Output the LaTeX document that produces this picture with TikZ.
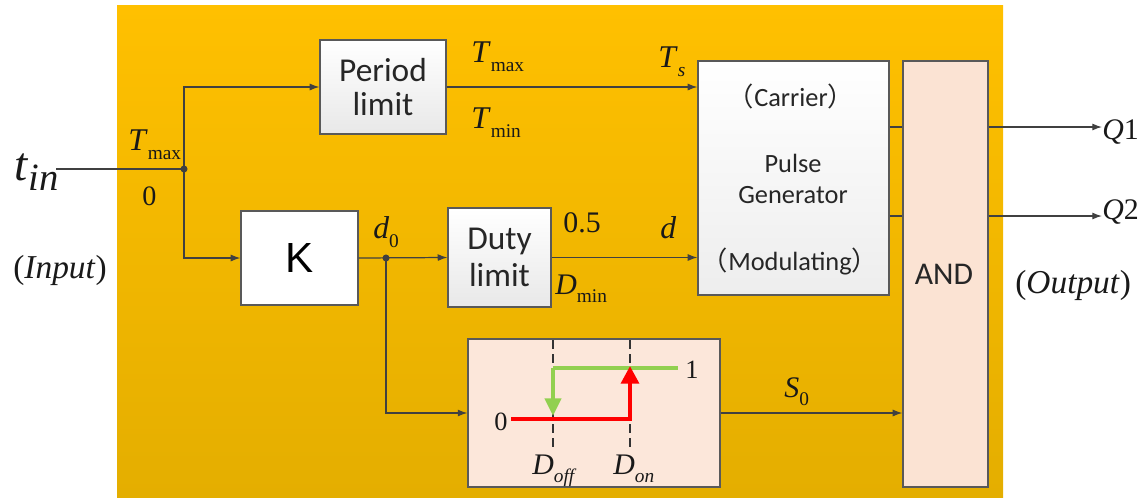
\documentclass[tikz,border=0pt]{standalone}
\usepackage{fontspec}
\setmainfont{Liberation Serif}
\newfontfamily\boxfont{Carlito}
\newfontfamily\arialf{Liberation Sans}
\newfontfamily\cjkf{Noto Sans CJK SC}
\usetikzlibrary{arrows.meta}
\newcommand\fsz[1]{\fontsize{#1}{#1}\selectfont}
\newcommand\sublab[4]{{\fsz{#1}\textit{#2}\raisebox{-0.3em}{\fsz{#3}#4}}}
\definecolor{linec}{HTML}{404040}
\definecolor{boxb}{HTML}{595959}
\definecolor{bgtop}{HTML}{FFC000}
\definecolor{bgbot}{HTML}{E4AE00}
\definecolor{peach}{HTML}{FBE3D3}
\definecolor{hred}{HTML}{FF0000}
\definecolor{hgreen}{HTML}{92D050}
\tikzset{
  conn/.style={draw=linec, line width=0.7pt},
  arr/.style={conn, -{Latex[length=5.5pt,width=4pt]}},
  blk/.style={draw=boxb, line width=0.7pt, top color=white, bottom color=black!9, inner sep=0pt, align=center, font=\boxfont\fsz{19}, text=black!85},
  pblk/.style={draw=boxb, line width=0.7pt, fill=peach, inner sep=0pt, align=center, font=\boxfont\fsz{17}, text=black!85},
  lab/.style={inner sep=0pt, anchor=base west, text=black!90},
  ptxt/.style={inner sep=0pt, font=\boxfont\fsz{15}, text=black!85},
  dot/.style={circle, fill=linec, inner sep=0pt, minimum size=4pt},
}
\begin{document}
\begin{tikzpicture}[x=0.02cm, y=-0.02cm]
\useasboundingbox (0,0) rectangle (1146,498);
% background
\shade[top color=bgtop, bottom color=bgbot] (117,5) rectangle (1003,497);
% blocks
\node[blk, minimum width=2.52cm, minimum height=1.88cm] (period) at (383,87) {Period\\[0pt]limit};
\node[blk, top color=white, bottom color=white, minimum width=2.34cm, minimum height=1.88cm, font=\arialf\fsz{24}, text=black] (K) at (299.5,258) {K};
\node[blk, minimum width=2.06cm, minimum height=1.98cm] (duty) at (499.5,257.5) {Duty\\[2pt]limit};
\node[blk, bottom color=black!7, minimum width=3.82cm, minimum height=4.68cm] (pg) at (793.5,178) {};
\node[pblk, minimum width=1.7cm, minimum height=8.52cm] (and) at (945.5,274) {};
\node[inner sep=0pt, font=\boxfont\fsz{18}, text=black!85] (andt) at (944,274) {AND};
\node[pblk, fill=peach!85, minimum width=5.04cm, minimum height=2.96cm] (hyst) at (594,413) {};
% pulse generator texts
\node[ptxt] (carrier) at (791,96) {{\cjkf （}Carrier{\cjkf ）}};
\node[ptxt, align=center] (pulse) at (793,179) {Pulse\\[3pt]Generator};
\node[ptxt] (modul) at (790,261) {{\cjkf （}Modulating{\cjkf ）}};
% input
\node[lab] (tin) at (14,180) {\fsz{27}\textit{t}\raisebox{-0.22em}{\fsz{22}\textit{in}}};
\coordinate (tstart) at (56,169);
\coordinate (j1) at (184,169);
\coordinate (j2) at (386,258);
\draw[conn] (tstart) -- (j1);
\draw[arr] (j1) |- (period.west);
\draw[arr] (j1) |- (K.west);
\node[dot] (j1d) at (j1) {};
\draw[arr] (K.east) -- (duty.west);
\node[dot] (j2d) at (j2) {};
\draw[arr] (j2) |- (hyst.west);
\draw[arr] (period.east) -- (period.east -| pg.west);
\draw[arr] (duty.east) -- (duty.east -| pg.west);
\draw[arr] (hyst.east) -- (hyst.east -| and.west);
% PG to AND
\coordinate (q1y) at (0,127);
\coordinate (q2y) at (0,216);
\draw[conn] (pg.east |- q1y) -- (and.west |- q1y);
\draw[conn] (pg.east |- q2y) -- (and.west |- q2y);
\node[lab] (Q1) at (1102,139) {\fsz{17}\textit{Q}1};
\node[lab] (Q2) at (1102,219) {\fsz{17}\textit{Q}2};
\draw[arr] (and.east |- q1y) -- (Q1.west |- q1y);
\draw[arr] (and.east |- q2y) -- (Q2.west |- q2y);
% labels
\node[lab] (tmaxl) at (128,150) {\sublab{18}{T}{11}{max}};
\node[lab] (zerol) at (142,205) {\fsz{16}0};
\node[lab] (inputl) at (13,278) {\fsz{19}(\textit{Input})};
\node[lab] (outputl) at (1015,293) {\fsz{19}(\textit{Output})};
\node[lab] (tmax2) at (471,62) {\sublab{18}{T}{11}{max}};
\node[lab] (tmin2) at (471,128) {\sublab{18}{T}{11}{min}};
\node[lab] (tsl) at (658,67) {\sublab{18}{T}{11}{\textit{s}}};
\node[lab] (d0l) at (373,238) {\sublab{18}{d}{11}{0}};
\node[lab] (halfl) at (563,232) {\fsz{17}0.5};
\node[lab] (dl) at (660,238) {\fsz{18}\textit{d}};
\node[lab] (dminl) at (555,294) {\sublab{17}{D}{11}{min}};
\node[lab] (s0l) at (784,397) {\sublab{17}{S}{11}{0}};
% hysteresis drawing
\draw[black!80, line width=0.6pt, dash pattern=on 5pt off 3pt] (553,340) -- (553,447);
\draw[black!80, line width=0.6pt, dash pattern=on 5pt off 3pt] (630,340) -- (630,447);
\draw[hgreen, line width=2.4pt] (553,368) -- (678,368);
\draw[hred, line width=2.4pt] (511,419) -- (630,419) -- (630,385);
\draw[hred, line width=2.4pt, -{Triangle[length=10pt,width=10pt]}] (630,395) -- (630,366);
\draw[hgreen, line width=2.4pt, -{Triangle[length=10pt,width=9pt]}] (553,368) -- (553,416);
\node[lab] (onel) at (685,378) {\fsz{15}1};
\node[lab] (zerol2) at (494,430) {\fsz{15}0};
\node[lab] (doffl) at (532,474) {\sublab{17}{D}{11}{\textit{off}}};
\node[lab] (donl) at (613,474) {\sublab{17}{D}{11}{\textit{on}}};
\end{tikzpicture}
\end{document}
